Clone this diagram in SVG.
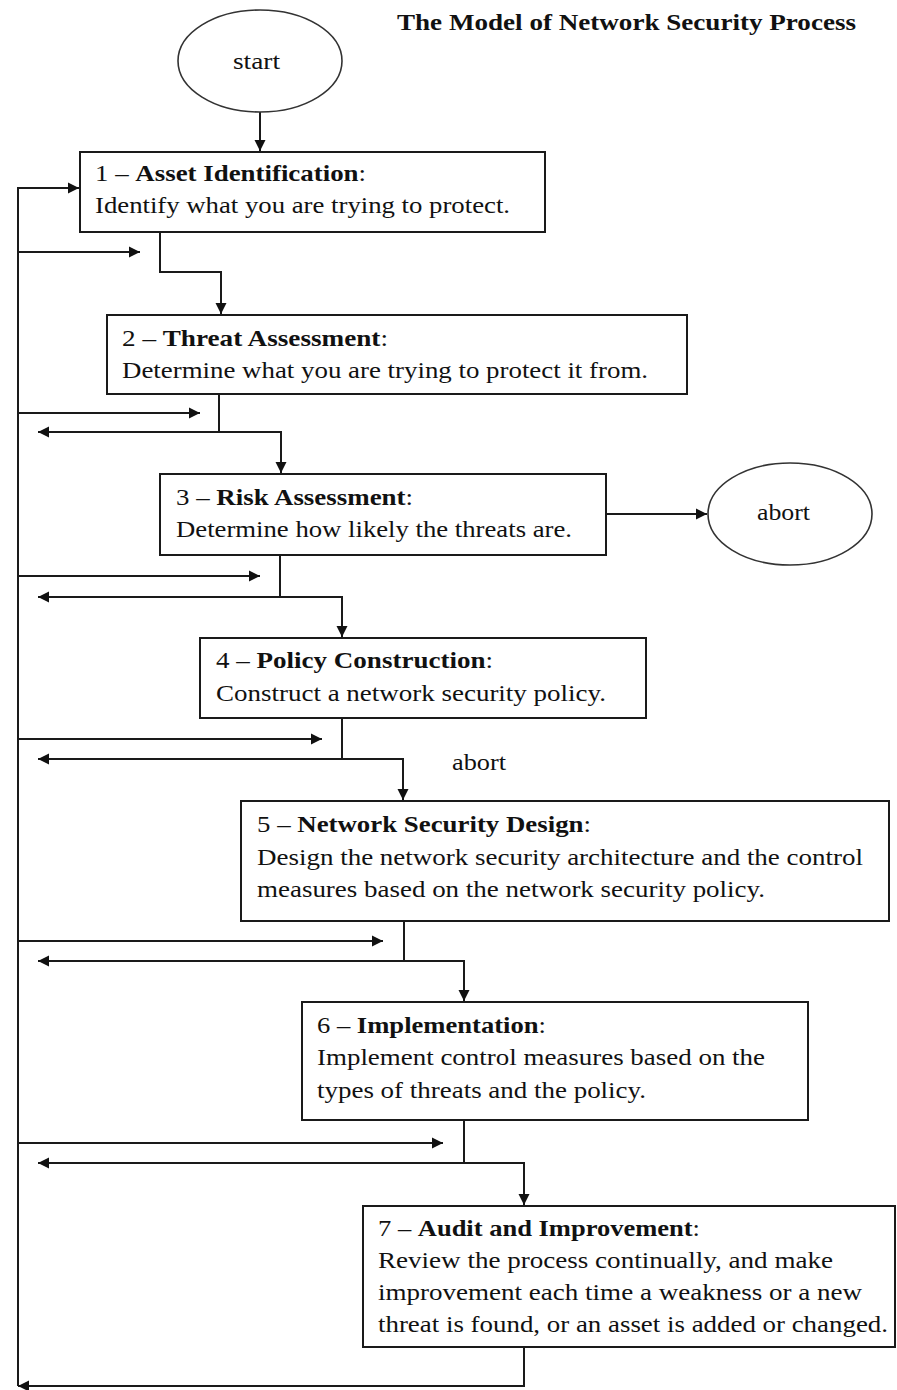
<svg xmlns="http://www.w3.org/2000/svg" width="897" height="1390" viewBox="0 0 897 1390">
  <style>
    .bg { fill: #ffffff; }
    .box { fill: #ffffff; stroke: #1a1a1a; stroke-width: 2; }
    .oval { fill: #ffffff; stroke: #333333; stroke-width: 1.6; }
    .txt { font-family: "Liberation Serif", "Times New Roman", serif; font-size: 24px; fill: #111111; }
    .title { font-family: "Liberation Serif", "Times New Roman", serif; font-size: 23px; font-weight: bold; fill: #111111; }
    .b { font-weight: bold; }
    .wire { fill: none; stroke: #1a1a1a; stroke-width: 2; }
  </style>
  <defs>
    <marker id="head" markerUnits="userSpaceOnUse" markerWidth="12" markerHeight="12" refX="11" refY="6" orient="auto">
      <path d="M0,0.5 L11,6 L0,11.5 z" fill="#111111"/>
    </marker>
  </defs>

  <rect class="bg" x="0" y="0" width="897" height="1390"/>

  <!-- heading -->
  <text class="title" x="397" y="30" textLength="459" lengthAdjust="spacingAndGlyphs">The Model of Network Security Process</text>

  <!-- connectors -->
  <g id="connectors">
    <path class="wire" d="M260,112 V151" marker-end="url(#head)"/>
    <path class="wire" d="M18,1386 V188 H79" marker-end="url(#head)"/>
    <path class="wire" d="M18,252 H140" marker-end="url(#head)"/>
    <path class="wire" d="M160,232 V272 H221 V314" marker-end="url(#head)"/>

    <path class="wire" d="M18,413 H200" marker-end="url(#head)"/>
    <path class="wire" d="M219,394 V432 H38" marker-end="url(#head)"/>
    <path class="wire" d="M219,432 H281 V473" marker-end="url(#head)"/>

    <path class="wire" d="M18,576 H260" marker-end="url(#head)"/>
    <path class="wire" d="M280,555 V597 H38" marker-end="url(#head)"/>
    <path class="wire" d="M280,597 H342 V637" marker-end="url(#head)"/>
    <path class="wire" d="M606,514 H707" marker-end="url(#head)"/>

    <path class="wire" d="M18,739 H322" marker-end="url(#head)"/>
    <path class="wire" d="M342,718 V759 H38" marker-end="url(#head)"/>
    <path class="wire" d="M342,759 H403 V800" marker-end="url(#head)"/>

    <path class="wire" d="M18,941 H383" marker-end="url(#head)"/>
    <path class="wire" d="M404,921 V961 H38" marker-end="url(#head)"/>
    <path class="wire" d="M404,961 H464 V1001" marker-end="url(#head)"/>

    <path class="wire" d="M18,1143 H443" marker-end="url(#head)"/>
    <path class="wire" d="M464,1120 V1163 H38" marker-end="url(#head)"/>
    <path class="wire" d="M464,1163 H524 V1205" marker-end="url(#head)"/>

    <path class="wire" d="M524,1347 V1386 H18" marker-end="url(#head)"/>
  </g>

  <!-- start terminal -->
  <g id="start">
    <ellipse class="oval" cx="260" cy="61" rx="82" ry="51"/>
    <text class="txt" x="233" y="69" textLength="47" lengthAdjust="spacingAndGlyphs">start</text>
  </g>

  <!-- step 1 -->
  <g id="asset-identification">
    <rect class="box" x="80" y="152" width="465" height="80"/>
    <text class="txt" x="95" y="181" textLength="271" lengthAdjust="spacingAndGlyphs">1 – <tspan class="b">Asset Identification</tspan>:</text>
    <text class="txt" x="95" y="213" textLength="415" lengthAdjust="spacingAndGlyphs">Identify what you are trying to protect.</text>
  </g>

  <!-- step 2 -->
  <g id="threat-assessment">
    <rect class="box" x="107" y="315" width="580" height="79"/>
    <text class="txt" x="122" y="346" textLength="266" lengthAdjust="spacingAndGlyphs">2 – <tspan class="b">Threat Assessment</tspan>:</text>
    <text class="txt" x="122" y="378" textLength="526" lengthAdjust="spacingAndGlyphs">Determine what you are trying to protect it from.</text>
  </g>

  <!-- step 3 -->
  <g id="risk-assessment">
    <rect class="box" x="160" y="474" width="446" height="81"/>
    <text class="txt" x="176" y="505" textLength="237" lengthAdjust="spacingAndGlyphs">3 – <tspan class="b">Risk Assessment</tspan>:</text>
    <text class="txt" x="176" y="537" textLength="396" lengthAdjust="spacingAndGlyphs">Determine how likely the threats are.</text>
  </g>

  <!-- abort terminal -->
  <g id="abort">
    <ellipse class="oval" cx="790" cy="514" rx="82" ry="51"/>
    <text class="txt" x="757" y="520" textLength="53" lengthAdjust="spacingAndGlyphs">abort</text>
  </g>

  <!-- step 4 -->
  <g id="policy-construction">
    <rect class="box" x="200" y="638" width="446" height="80"/>
    <text class="txt" x="216" y="668" textLength="277" lengthAdjust="spacingAndGlyphs">4 – <tspan class="b">Policy Construction</tspan>:</text>
    <text class="txt" x="216" y="701" textLength="390" lengthAdjust="spacingAndGlyphs">Construct a network security policy.</text>
  </g>

  <!-- loose label -->
  <g id="abort-label">
    <text class="txt" x="452" y="770" textLength="54" lengthAdjust="spacingAndGlyphs">abort</text>
  </g>

  <!-- step 5 -->
  <g id="network-security-design">
    <rect class="box" x="241" y="801" width="648" height="120"/>
    <text class="txt" x="257" y="832" textLength="334" lengthAdjust="spacingAndGlyphs">5 – <tspan class="b">Network Security Design</tspan>:</text>
    <text class="txt" x="257" y="865" textLength="606" lengthAdjust="spacingAndGlyphs">Design the network security architecture and the control</text>
    <text class="txt" x="257" y="897" textLength="508" lengthAdjust="spacingAndGlyphs">measures based on the network security policy.</text>
  </g>

  <!-- step 6 -->
  <g id="implementation">
    <rect class="box" x="302" y="1002" width="506" height="118"/>
    <text class="txt" x="317" y="1033" textLength="229" lengthAdjust="spacingAndGlyphs">6 – <tspan class="b">Implementation</tspan>:</text>
    <text class="txt" x="317" y="1065" textLength="448" lengthAdjust="spacingAndGlyphs">Implement control measures based on the</text>
    <text class="txt" x="317" y="1098" textLength="329" lengthAdjust="spacingAndGlyphs">types of threats and the policy.</text>
  </g>

  <!-- step 7 -->
  <g id="audit-improvement">
    <rect class="box" x="363" y="1206" width="532" height="141"/>
    <text class="txt" x="378" y="1236" textLength="322" lengthAdjust="spacingAndGlyphs">7 – <tspan class="b">Audit and Improvement</tspan>:</text>
    <text class="txt" x="378" y="1268" textLength="455" lengthAdjust="spacingAndGlyphs">Review the process continually, and make</text>
    <text class="txt" x="378" y="1300" textLength="484" lengthAdjust="spacingAndGlyphs">improvement each time a weakness or a new</text>
    <text class="txt" x="378" y="1332" textLength="510" lengthAdjust="spacingAndGlyphs">threat is found, or an asset is added or changed.</text>
  </g>
</svg>
